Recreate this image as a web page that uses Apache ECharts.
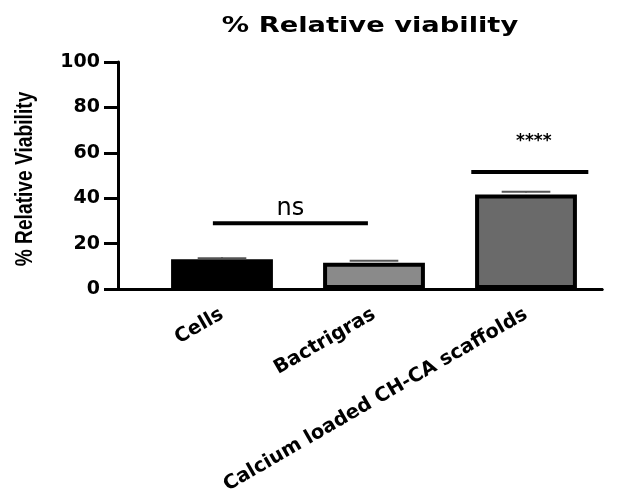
<!DOCTYPE html>
<html><head><meta charset="utf-8">
<script src="https://cdn.jsdelivr.net/npm/echarts@6/dist/echarts.min.js"></script>
<style>html,body{margin:0;padding:0;background:#fff}#c{width:627px;height:500px}</style>
</head><body><div id="c"></div>
<script>
var titleText = '% Relative viability';
var yAxisName = '% Relative Viability';
var categories = ['Cells', 'Bactrigras', 'Calcium loaded CH-CA scaffolds'];
var means = [13.1, 11.6, 41.6];
var errors = [0.5, 0.9, 1.2];
var barColors = ['#000000', '#8a8a8a', '#6a6a6a'];
var yTicks = [0, 20, 40, 60, 80, 100];
var sigFrom = [0, 2];
var sigTo = [1, 2];
var sigY = [29, 51.5];
var sigLabel = ['ns', '****'];

var chart = echarts.init(document.getElementById('c'));
var gridTop = 62, gridBottom = 211;
chart.setOption({
  animation: false,
  graphic: [{
    type: 'text', x: 370, y: 27, scaleX: 1.3,
    style: { text: titleText, fill: '#000', align: 'center', verticalAlign: 'middle',
      font: 'bold 21px "DejaVu Sans"' }
  }, {
    type: 'text', x: 25, y: 179, rotation: Math.PI / 2, scaleX: 0.8,
    style: { text: yAxisName, fill: '#000', align: 'center', verticalAlign: 'middle',
      font: 'bold 24px "Liberation Sans"' }
  }],
  grid: [
    { left: 146, right: 25, top: gridTop, bottom: gridBottom },
    { left: 118, right: 25, top: gridTop, bottom: gridBottom }
  ],
  xAxis: [{
    type: 'category', data: categories, gridIndex: 0,
    axisLine: { lineStyle: { color: '#000', width: 3 } },
    axisTick: { alignWithLabel: true, length: 9, lineStyle: { color: '#000', width: 3 } },
    axisLabel: { rotate: 30, margin: 24, color: '#000', fontFamily: 'DejaVu Sans', fontWeight: 'bold', fontSize: 19.5, interval: 0 }
  }, {
    type: 'value', gridIndex: 1, min: 0, max: 1,
    axisLine: { show: true, lineStyle: { color: '#000', width: 3 } },
    axisTick: { show: false }, axisLabel: { show: false }, splitLine: { show: false }
  }],
  yAxis: [{
    type: 'value', gridIndex: 0, min: 0, max: 100, interval: 20, offset: 28,
    axisLine: { show: true, lineStyle: { color: '#000', width: 3 } },
    axisTick: { show: true, length: 14, lineStyle: { color: '#000', width: 3 } },
    axisLabel: { color: '#000', fontFamily: 'DejaVu Sans', fontWeight: 'bold', fontSize: 19, margin: 18,
      formatter: function (v) { return yTicks.indexOf(v) >= 0 ? String(v) : ''; } },
    splitLine: { show: false }
  }, {
    type: 'value', gridIndex: 1, min: 0, max: 100, show: false
  }],
  series: [{
    type: 'bar', xAxisIndex: 0, yAxisIndex: 0, barWidth: '67%',
    data: means.map(function (v, i) {
      return { value: v, itemStyle: { color: barColors[i], borderColor: '#000', borderWidth: 4 } };
    }),
    z: 2
  }, {
    type: 'custom', xAxisIndex: 0, yAxisIndex: 0, z: 3,
    data: means.map(function (v, i) { return [i, v, errors[i]]; }),
    renderItem: function (params, api) {
      var x = api.value(0), m = api.value(1), e = api.value(2);
      var top = api.coord([x, m + e]);
      var base = api.coord([x, m]);
      var w = api.size([1, 0])[0] * 0.32;
      var st = { stroke: '#555', lineWidth: 2 };
      return { type: 'group', children: [
        { type: 'line', shape: { x1: top[0], y1: base[1] - 2, x2: top[0], y2: top[1] }, style: st },
        { type: 'line', shape: { x1: top[0] - w / 2, y1: top[1], x2: top[0] + w / 2, y2: top[1] }, style: st }
      ] };
    }
  }, {
    type: 'custom', xAxisIndex: 0, yAxisIndex: 0, z: 4,
    data: sigLabel.map(function (l, i) { return [sigFrom[i], sigTo[i], sigY[i], i]; }),
    renderItem: function (params, api) {
      var f = api.value(0), t = api.value(1), y = api.value(2), idx = api.value(3);
      var band = api.size([1, 0])[0];
      var p1 = api.coord([f, y]), p2 = api.coord([t, y]);
      var x1, x2;
      if (f === t) { x1 = p1[0] - band * 0.36; x2 = p2[0] + band * 0.41; }
      else { x1 = p1[0] - band * 0.06; x2 = p2[0] - band * 0.04; }
      var lbl = sigLabel[idx];
      var star = lbl.indexOf('*') >= 0;
      return { type: 'group', children: [
        { type: 'line', shape: { x1: x1, y1: p1[1], x2: x2, y2: p1[1] }, style: { stroke: '#000', lineWidth: 4 } },
        { type: 'text', x: (x1 + x2) / 2 + (star ? 4 : 0), y: p1[1] - (star ? 31 : 14),
          style: { text: lbl, fill: '#000', align: 'center', verticalAlign: 'middle',
            font: star ? 'bold 17px DejaVu Sans' : '24px DejaVu Sans' } }
      ] };
    }
  }]
});
</script></body></html>
